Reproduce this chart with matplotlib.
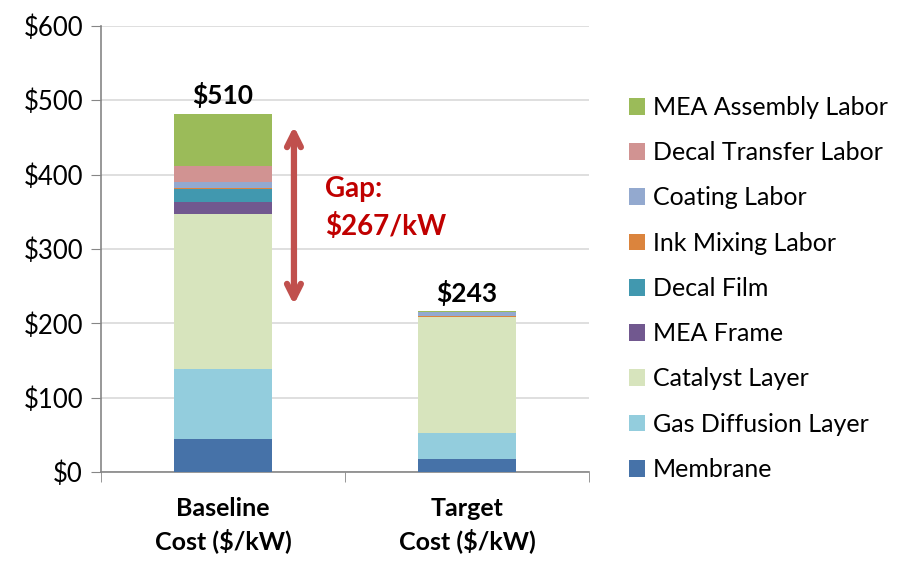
import matplotlib
matplotlib.use('Agg')
import matplotlib.pyplot as plt
import numpy as np

plt.rcParams['font.family'] = ['Lato', 'DejaVu Sans']

# 数据
categories = ["Baseline\nCost ($/kW)", "Target\nCost ($/kW)"]
components = ["Membrane", "Gas Diffusion Layer", "Catalyst Layer", "MEA Frame",
              "Decal Film", "Ink Mixing Labor", "Coating Labor",
              "Decal Transfer Labor", "MEA Assembly Labor"]
baseline = [45, 93, 209, 16, 17, 2, 8, 21, 70]
target = [17, 35, 157, 0, 0, 1.5, 5, 0, 1.5]
total_labels = ["$510", "$243"]
total_label_y = [507, 241]
gap_text = "Gap:\n$267/kW"
gap_range = (225, 465)

colors = ['#4672A8', '#93CDDD', '#D7E4BD', '#71588F', '#4198AF',
          '#DB843D', '#93A9CF', '#D19392', '#9BBB59']

fig = plt.figure(figsize=(9.24, 5.62), dpi=100)
ax = fig.add_axes([0.1093, 0.160, 0.528, 0.794])

x = np.arange(len(categories))
bottom = np.zeros(len(categories))
handles = []
for i, name in enumerate(components):
    vals = np.array([baseline[i], target[i]])
    b = ax.bar(x, vals, 0.4, bottom=bottom, color=colors[i], label=name, zorder=3)
    handles.append(b)
    bottom += vals

for xi, lab, yv in zip(x, total_labels, total_label_y):
    ax.text(xi, yv, lab, ha='center', va='center', fontsize=19, fontweight='bold', zorder=4)

# 差距箭头
ax.annotate('', xy=(0.291, gap_range[1]), xytext=(0.291, gap_range[0]),
            arrowprops=dict(arrowstyle='<->,head_length=1.0,head_width=0.5',
                            color='#C0504D', lw=4.5, shrinkA=0, shrinkB=0), zorder=5)
ax.text(0.42, 355, gap_text, ha='left', va='center', fontsize=20, fontweight='bold',
        color='#C00000', linespacing=1.5, zorder=5)

ax.set_xlim(-0.5, 1.5)
ax.set_ylim(0, 600)
ax.set_yticks(range(0, 601, 100))
ax.set_yticklabels([f"${v}" for v in range(0, 601, 100)], fontsize=18.5)
ax.set_xticks(x)
ax.set_xticklabels(categories, fontsize=18, fontweight='bold', linespacing=1.4)
ax.set_xticks([-0.5, 0.5, 1.5], minor=True)
ax.tick_params(axis='x', which='major', length=0, pad=18)
ax.tick_params(axis='x', which='minor', length=7, color='#868686', direction='out')
ax.tick_params(axis='y', length=7, color='#868686', direction='out', pad=6)
ax.grid(axis='y', color='#D9D9D9', lw=1.2, zorder=0)
for s in ['top', 'right']:
    ax.spines[s].set_visible(False)
for s in ['left', 'bottom']:
    ax.spines[s].set_color('#868686')
    ax.spines[s].set_linewidth(1.2)

fig.legend(handles[::-1], components[::-1], loc='upper left', bbox_to_anchor=(0.670, 0.847),
           frameon=False, fontsize=18, handlelength=0.65, handleheight=0.65,
           handletextpad=0.3, labelspacing=0.89, borderaxespad=0)

fig.savefig("out.png", dpi=100)
